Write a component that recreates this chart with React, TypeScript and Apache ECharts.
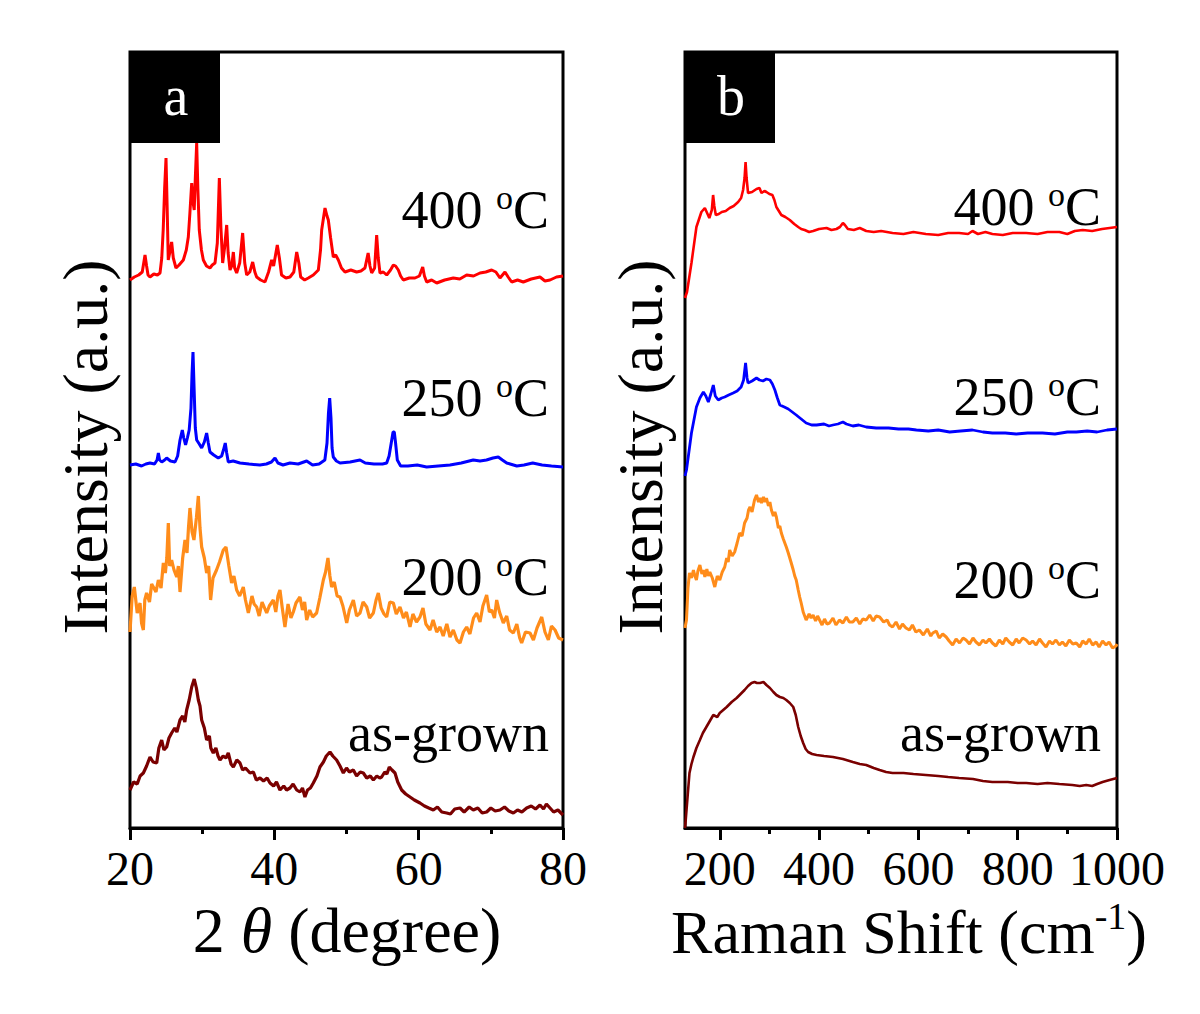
import React, { useEffect, useRef } from "react";
import * as echarts from "echarts";

const FONT = "'Liberation Serif', 'Times New Roman', serif";

// ---- Panel a: XRD (2theta, relative intensity with stacking offset) ----
const xrd400: number[][] = [[20,548],[20.6,551],[21.2,553],[21.7,556],[21.9,565],[22.08,573],[22.3,562],[22.5,553],[22.77,551],[23.3,554],[23.8,553],[24.16,555],[24.4,570],[24.6,598],[24.8,640],[24.99,670],[25.15,620],[25.3,568],[25.5,575],[25.77,586],[26.0,570],[26.37,560],[26.8,563],[27.39,568],[27.8,578],[28.08,591],[28.3,615],[28.55,645],[28.75,625],[28.9,618],[29.05,650],[29.24,685],[29.4,640],[29.6,598],[29.9,578],[30.16,568],[30.6,562],[31.08,560],[31.4,563],[31.78,565],[32.1,585],[32.38,650],[32.6,600],[32.84,565],[33.1,580],[33.4,603],[33.6,575],[33.86,558],[34.1,562],[34.32,576],[34.5,560],[34.78,555],[35.2,565],[35.61,595],[35.9,565],[36.17,553],[36.6,556],[37.0,566],[37.3,556],[37.55,551],[38.1,548],[38.7,546],[39.2,556],[39.63,568],[39.9,562],[40.41,583],[40.7,570],[41.0,553],[41.6,550],[42.17,551],[42.7,556],[43.1,576],[43.4,565],[43.65,551],[44.2,548],[44.71,550],[45.4,553],[46.1,558],[46.4,578],[46.56,598],[47.02,620],[47.3,612],[47.48,608],[47.8,590],[48.17,571],[48.5,573],[48.87,568],[49.3,560],[49.79,556],[50.6,558],[51.4,556],[52.0,557],[52.56,560],[53.0,575],[53.25,562],[53.49,555],[53.9,560],[54.18,593],[54.4,570],[54.64,555],[55.1,556],[55.57,553],[56.1,558],[56.49,563],[56.8,562],[57.18,558],[57.5,552],[57.87,548],[58.7,550],[59.49,550],[60.1,552],[60.56,561],[60.8,552],[61.11,546],[61.8,548],[62.5,545],[63.6,548],[64.8,550],[65.7,549],[66.65,553],[67.6,552],[68.5,555],[69.3,556],[70.12,558],[70.7,556],[71.27,550],[71.96,556],[72.4,551],[72.89,546],[73.7,548],[74.5,546],[75.6,549],[76.81,551],[77.5,547],[78.2,548],[79.1,551],[80,552]];

const xrd250: number[][] = [[20,363],[20.8,364],[21.6,362],[22.2,364],[22.77,365],[23.4,364],[23.75,368],[23.93,375],[24.1,368],[24.4,366],[24.8,368],[25.08,370],[25.6,367],[26.24,366],[26.6,372],[26.93,388],[27.25,398],[27.45,390],[27.7,383],[27.95,390],[28.2,398],[28.45,420],[28.6,455],[28.73,476],[28.88,440],[29.05,400],[29.24,388],[29.6,384],[29.93,380],[30.3,386],[30.62,395],[30.85,385],[31.08,376],[31.6,373],[32.23,370],[32.7,372],[32.95,378],[33.2,385],[33.4,375],[33.62,366],[34.3,367],[35.24,365],[36.5,364],[38.0,363],[38.9,364],[39.6,366],[40.09,370],[40.5,365],[41.2,363],[42.17,365],[43.3,364],[44.48,367],[45.3,363],[46.2,364],[47.0,368],[47.3,385],[47.5,415],[47.67,430],[47.85,410],[48.0,380],[48.17,371],[48.6,367],[49.1,365],[50.5,366],[51.87,368],[52.6,365],[53.8,364],[55.0,364],[55.57,365],[55.9,372],[56.2,385],[56.45,396],[56.62,396],[56.8,385],[57.04,368],[57.5,362],[58.5,362],[59.8,363],[61.11,361],[62.7,362],[64.34,363],[65.9,365],[67.57,368],[68.5,367],[69.4,368],[70.3,370],[71.03,371],[71.6,368],[72.2,365],[73.6,362],[74.6,363],[75.8,365],[77.1,363],[78.4,362],[80,361]];

const xrd200: number[][] = [[20.0,196],[20.3,232],[20.6,241],[21.0,215],[21.39,225],[21.6,205],[21.85,198],[22.05,228],[22.3,235],[22.7,226],[23.0,244],[23.23,241],[23.6,236],[23.93,248],[24.3,240],[24.62,265],[24.9,255],[25.1,270],[25.31,305],[25.5,262],[25.77,268],[26.1,258],[26.47,251],[26.7,262],[26.93,236],[27.3,270],[27.62,288],[27.9,275],[28.1,300],[28.31,320],[28.6,296],[28.86,288],[29.2,310],[29.47,332],[29.7,300],[29.93,281],[30.3,270],[30.62,255],[30.9,262],[31.17,228],[31.5,250],[31.99,258],[32.4,266],[32.93,278],[33.3,281],[33.7,262],[34.08,245],[34.4,252],[34.78,238],[35.2,232],[35.7,241],[36.0,228],[36.4,215],[36.9,232],[37.2,224],[37.55,221],[37.9,212],[38.3,226],[38.94,215],[39.3,222],[39.86,228],[40.2,216],[40.5,232],[40.78,238],[41.1,220],[41.47,201],[41.9,224],[42.3,210],[42.63,216],[43.0,225],[43.55,231],[43.9,218],[44.2,226],[44.48,208],[44.9,218],[45.3,211],[45.86,215],[46.3,230],[46.79,248],[47.1,256],[47.43,270],[47.7,252],[47.94,241],[48.3,246],[48.7,232],[49.1,231],[49.5,222],[50.03,205],[50.4,218],[50.95,228],[51.4,212],[51.87,215],[52.3,226],[52.8,221],[53.2,210],[53.72,215],[54.1,228],[54.41,235],[54.8,220],[55.2,214],[55.57,211],[56.0,226],[56.49,225],[56.9,214],[57.41,221],[57.9,210],[58.3,216],[58.8,201],[59.2,214],[59.7,206],[60.18,211],[60.6,220],[61.0,204],[61.57,198],[62.0,208],[62.5,196],[62.96,201],[63.4,192],[63.9,204],[64.34,191],[64.8,198],[65.3,188],[65.73,185],[66.2,196],[66.65,201],[67.1,194],[67.6,210],[68.04,215],[68.5,206],[68.9,222],[69.42,233],[69.8,216],[70.12,218],[70.5,210],[70.81,228],[71.2,216],[71.73,205],[72.2,212],[72.6,198],[73.12,195],[73.6,204],[74.0,190],[74.27,185],[74.8,196],[75.43,195],[75.9,188],[76.4,200],[77.05,211],[77.5,196],[77.97,188],[78.4,202],[78.9,198],[79.4,190],[80.0,188]];

const xrdAsGrown: number[][] = [[20,38],[20.5,46],[21.0,44],[21.4,52],[21.85,55],[22.3,62],[22.77,71],[23.2,66],[23.7,65],[24.0,80],[24.39,88],[24.7,78],[25.08,81],[25.4,90],[25.77,95],[26.2,100],[26.5,96],[26.93,108],[27.3,112],[27.6,106],[27.85,118],[28.2,128],[28.55,141],[28.9,149],[29.2,140],[29.47,128],[29.7,122],[29.93,108],[30.3,100],[30.62,88],[31.0,92],[31.2,80],[31.54,75],[31.9,80],[32.2,72],[32.47,68],[32.9,72],[33.3,70],[33.62,75],[34.0,64],[34.32,61],[34.8,68],[35.24,65],[35.6,58],[36.0,60],[36.63,55],[37.1,56],[37.5,48],[38.02,50],[38.5,47],[39.0,50],[39.4,45],[39.9,42],[40.3,46],[40.78,38],[41.3,42],[41.7,38],[42.17,40],[42.6,44],[43.1,38],[43.55,36],[43.9,40],[44.24,31],[44.6,38],[45.0,40],[45.4,45],[45.9,52],[46.32,61],[46.8,66],[47.2,72],[47.71,76],[48.1,72],[48.63,68],[49.1,62],[49.56,55],[50.0,60],[50.4,56],[50.95,58],[51.4,52],[51.9,56],[52.33,55],[52.8,50],[53.3,52],[53.72,48],[54.2,52],[54.6,50],[54.87,51],[55.3,56],[55.6,54],[55.93,61],[56.3,58],[56.72,55],[57.1,46],[57.64,38],[58.2,34],[58.8,31],[59.4,28],[60.18,25],[60.8,22],[61.4,20],[62.03,18],[62.6,21],[63.2,16],[63.88,15],[64.4,14],[65.0,19],[65.73,20],[66.3,16],[67.0,21],[67.57,18],[68.2,20],[68.8,15],[69.42,16],[70.0,20],[70.6,17],[71.27,18],[71.9,21],[72.5,17],[73.12,15],[73.7,18],[74.3,16],[74.96,20],[75.6,22],[76.2,19],[76.81,23],[77.3,19],[77.7,24],[78.2,20],[78.7,16],[79.3,18],[80.0,13]];

// ---- Panel b: Raman ----
const raman400: number[][] = [[130,530],[134,536],[143,565],[153,601],[163,616],[170,620],[179,610],[184,618],[186.6,633],[189,622],[192,613],[198,614],[204,616],[212,617],[220,620],[228,622],[237,626],[243,630],[247,638],[250,650],[252,666],[254,650],[257,635],[265,636],[274,639],[280,640],[284,635],[290,637],[294,636],[300,634],[306,633],[310,628],[314,621],[324,613],[332,611],[341,608],[350,604],[358,601],[364,599],[371,598],[380,596],[388,597],[400,599],[415,600],[425,598],[435,599],[442,601],[448,605],[452,603],[458,599],[470,598],[482,600],[495,597],[510,596],[525,597],[548,595],[570,594],[590,596],[615,594],[640,593],[660,595],[682,595],[700,594],[709,597],[720,594],[735,596],[749,594],[770,593],[790,595],[817,595],[840,594],[860,596],[884,596],[900,594],[915,597],[931,598],[950,597],[970,599],[985,600],[1000,601]];

const raman250: number[][] = [[130,352],[133,358],[143,395],[153,421],[160,430],[167,436],[172,432],[177,426],[182,434],[187,443],[191,432],[197,428],[204,430],[210,431],[218,433],[227,435],[235,437],[243,441],[248,448],[252,465],[255,450],[257,445],[265,447],[274,450],[280,448],[287,447],[294,449],[301,448],[306,444],[311,438],[316,430],[321,423],[330,421],[338,419],[346,416],[354,413],[364,409],[374,405],[385,403],[395,403],[410,404],[420,402],[428,403],[438,404],[448,406],[455,404],[468,402],[480,403],[495,401],[515,400],[540,400],[560,399],[580,399],[596,398],[620,397],[640,398],[663,396],[685,397],[709,398],[730,396],[749,395],[775,395],[797,394],[820,395],[850,395],[875,394],[900,396],[918,396],[940,397],[960,396],[980,398],[1000,399]];

const raman200: number[][] = [[130,200],[133,208],[136,240],[139,255],[143,250],[147,258],[150,252],[153,248],[156,257],[160,263],[164,254],[167,258],[170,251],[174,259],[177,252],[180,256],[185,250],[190,241],[195,252],[200,248],[205,256],[210,261],[214,270],[217,266],[220,278],[225,272],[230,276],[235,285],[240,295],[245,292],[250,305],[255,310],[258,318],[261,321],[265,316],[270,328],[274,333],[278,326],[281,330],[284,325],[288,331],[291,326],[294,330],[298,322],[301,326],[304,318],[308,312],[311,316],[314,311],[318,300],[321,302],[324,295],[328,289],[331,285],[334,281],[338,275],[341,270],[344,265],[348,258],[351,252],[354,248],[358,238],[361,231],[364,225],[368,216],[371,212],[374,208],[380,214],[384,210],[388,213],[393,207],[397,212],[401,208],[406,203],[411,209],[416,204],[421,205],[428,210],[434,203],[441,208],[448,205],[455,211],[461,206],[468,206],[475,210],[482,204],[488,209],[495,208],[502,213],[509,207],[515,212],[522,211],[530,206],[537,208],[542,203],[548,201],[555,206],[562,199],[568,204],[575,200],[582,198],[588,203],[595,196],[602,198],[610,193],[618,199],[625,192],[629,195],[636,197],[642,190],[649,194],[656,191],[662,187],[669,183],[676,189],[683,185],[690,190],[696,188],[703,184],[710,190],[716,186],[723,183],[730,188],[736,185],[743,189],[749,185],[756,182],[763,188],[770,184],[776,190],[783,186],[790,183],[797,189],[803,185],[810,190],[817,188],[824,184],[830,187],[837,183],[844,189],[850,185],[857,181],[864,187],[870,184],[877,188],[884,183],[890,186],[897,182],[904,188],[911,184],[918,185],[925,181],[931,187],[938,184],[944,189],[951,183],[958,186],[964,181],[971,187],[978,183],[984,186],[991,180],[998,182],[1000,184]];

const ramanAsGrown: number[][] = [[130,0],[131,5],[135,30],[139,55],[143,64],[147,71],[153,80],[160,88],[166,95],[173,101],[180,107],[187,113],[191,112],[195,111],[200,115],[207,118],[214,121],[224,126],[234,130],[242,134],[250,138],[257,142],[264,145],[270,146],[275,145],[281,145],[288,146],[294,143],[301,140],[308,136],[314,133],[321,131],[328,130],[334,128],[341,125],[348,121],[353,113],[358,101],[363,92],[368,85],[373,79],[378,76],[386,74],[395,73],[410,72],[428,71],[448,69],[468,66],[482,64],[495,63],[510,60],[522,58],[535,56],[548,55],[570,55],[590,54],[615,53],[640,52],[660,51],[682,50],[710,49],[730,47],[749,46],[780,46],[800,45],[817,45],[840,44],[860,45],[884,44],[910,43],[925,42],[938,43],[950,42],[960,44],[971,46],[985,48],[1000,50]];

const sampleLabels = ["400", "250", "200", "as-grown"];
const colors = ["#ff0000", "#0000ff", "#ff8c1a", "#7a0000"];
const ramanMajor = [200, 400, 600, 800, 1000];
const ramanMinor = [300, 500, 700, 900];

function buildOption() {
  const W = 1200, H = 1014;
  const top = 52, bottom = 828;
  const aL = 130, aR = 563, bL = 685, bR = 1117;

  const lineSeries = (data: number[][], idx: number, axis: number, width: number) => ({
    type: "line",
    xAxisIndex: axis === 0 ? 0 : 1,
    yAxisIndex: axis,
    data,
    showSymbol: false,
    symbol: "none",
    silent: true,
    lineStyle: { color: colors[idx], width },
  });

  const tempText = (t: string) =>
    t === "as-grown" ? "{n|as-grown}" : `{n|${t} }{s|o}{n|C}`;
  const rich = {
    n: { fontSize: 54, fontFamily: FONT, color: "#000", lineHeight: 60 },
    s: { fontSize: 34, fontFamily: FONT, color: "#000", verticalAlign: "top", lineHeight: 60 },
  };
  const labelYs = [210, 398, 577, 733];
  const labelYsB = [207, 397, 580, 733];

  const graphics: any[] = [];
  sampleLabels.forEach((t, i) => {
    graphics.push({
      type: "text", x: 549, y: labelYs[i],
      style: { text: tempText(t), rich, align: "right", verticalAlign: "middle" },
    });
    graphics.push({
      type: "text", x: 1101, y: labelYsB[i],
      style: { text: tempText(t), rich, align: "right", verticalAlign: "middle" },
    });
  });
  // panel tags
  [[aL, "a"], [bL, "b"]].forEach(([x, t]: any) => {
    graphics.push({ type: "rect", shape: { x, y: top, width: 90, height: 91 }, style: { fill: "#000" } });
    graphics.push({
      type: "text", x: x + 46, y: top + 44,
      style: { text: t, fill: "#fff", font: `56px ${FONT}`, align: "center", verticalAlign: "middle" },
    });
  });
  // y titles
  [85, 640].forEach((x) => {
    graphics.push({
      type: "text", x, y: 447, rotation: Math.PI / 2,
      style: { text: "Intensity (a.u.)", fill: "#000", font: `64px ${FONT}`, align: "center", verticalAlign: "middle" },
    });
  });
  // x titles
  graphics.push({
    type: "text", x: 347, y: 930,
    style: {
      text: "{n|2 }{i|θ}{n| (degree)}",
      align: "center", verticalAlign: "middle",
      rich: {
        n: { fontSize: 64, fontFamily: FONT, color: "#000", lineHeight: 70 },
        i: { fontSize: 64, fontFamily: FONT, fontStyle: "italic", color: "#000", lineHeight: 70 },
      },
    },
  });
  graphics.push({
    type: "text", x: 909, y: 932,
    style: {
      text: "{n|Raman Shift (cm}{s|-1}{n|)}",
      align: "center", verticalAlign: "middle",
      rich: {
        n: { fontSize: 62, fontFamily: FONT, color: "#000", lineHeight: 70 },
        s: { fontSize: 38, fontFamily: FONT, color: "#000", verticalAlign: "top", lineHeight: 70 },
      },
    },
  });

  const axisLineStyle = { color: "#000", width: 3 };
  const labelStyle = { fontSize: 48, fontFamily: FONT, color: "#000", margin: 16, formatter: (v: number) => String(v) };

  return {
    animation: false,
    backgroundColor: "#fff",
    grid: [
      { left: aL, right: W - aR, top, bottom: H - bottom, show: true, borderColor: "#000", borderWidth: 3, backgroundColor: "transparent" },
      { left: bL, right: W - bR, top, bottom: H - bottom, show: true, borderColor: "#000", borderWidth: 3, backgroundColor: "transparent" },
    ],
    xAxis: [
      {
        type: "value", gridIndex: 0, min: 20, max: 80, interval: 20, position: "bottom",
        axisLine: { show: true, lineStyle: axisLineStyle },
        axisTick: { show: true, inside: false, length: 12, lineStyle: axisLineStyle },
        minorTick: { show: true, splitNumber: 2, length: 6, lineStyle: axisLineStyle },
        axisLabel: labelStyle,
        splitLine: { show: false },
      },
      {
        type: "value", gridIndex: 1, min: 130, max: 1000, position: "bottom",
        axisLine: { show: true, lineStyle: axisLineStyle },
        axisTick: { show: true, inside: false, length: 12, lineStyle: axisLineStyle, customValues: ramanMajor },
        axisLabel: { ...labelStyle, customValues: ramanMajor },
        splitLine: { show: false },
      },
      {
        type: "value", gridIndex: 1, min: 130, max: 1000, position: "bottom", offset: 0,
        axisLine: { show: false },
        axisTick: { show: true, inside: false, length: 6, lineStyle: axisLineStyle, customValues: ramanMinor },
        axisLabel: { show: false, customValues: ramanMinor },
        splitLine: { show: false },
      },
    ],
    yAxis: [
      { type: "value", gridIndex: 0, min: 0, max: 776, show: false, splitLine: { show: false } },
      { type: "value", gridIndex: 1, min: 0, max: 776, show: false, splitLine: { show: false } },
    ],
    series: [
      lineSeries(xrd400, 0, 0, 3),
      lineSeries(xrd250, 1, 0, 3),
      lineSeries(xrd200, 2, 0, 3.2),
      lineSeries(xrdAsGrown, 3, 0, 3.2),
      lineSeries(raman400, 0, 1, 2.6),
      lineSeries(raman250, 1, 1, 2.8),
      lineSeries(raman200, 2, 1, 3),
      lineSeries(ramanAsGrown, 3, 1, 2.6),
    ],
    graphic: graphics,
  };
}

export default function App() {
  const ref = useRef<HTMLDivElement>(null);
  useEffect(() => {
    if (!ref.current) return;
    const chart = echarts.init(ref.current, null, { renderer: "svg" });
    chart.setOption(buildOption() as any);
    return () => chart.dispose();
  }, []);
  return (
    <div
      ref={ref}
      style={{ position: "absolute", left: 0, top: 0, width: 1200, height: 1014, background: "#fff" }}
    />
  );
}
